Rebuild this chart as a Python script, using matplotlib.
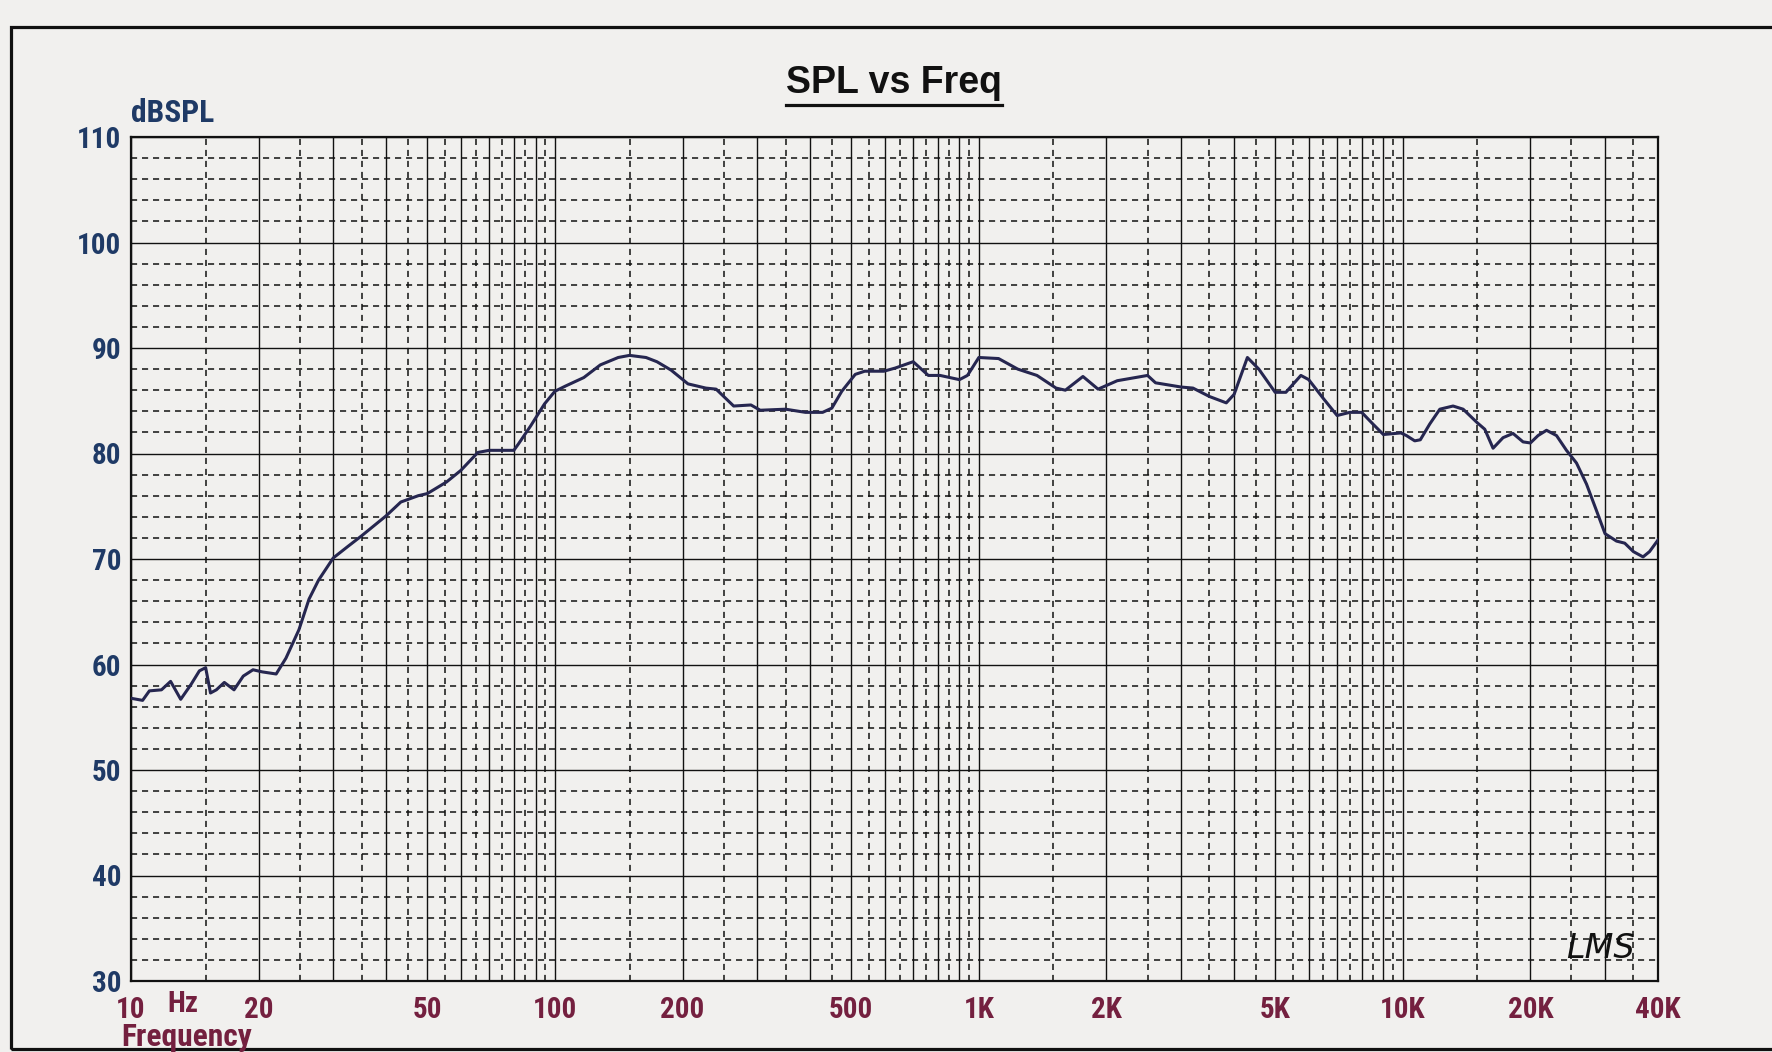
import os
import matplotlib
matplotlib.use('Agg')
import matplotlib.pyplot as plt
from matplotlib import font_manager as fm
from matplotlib.lines import Line2D
from matplotlib.patches import Rectangle
from matplotlib.ticker import NullFormatter

# response curve (Hz, dB SPL)
freq_hz = [10, 10.65, 11.05, 11.8, 12.4, 13.1, 13.85, 14.5, 15.0, 15.4, 15.9, 16.6,
           17.5, 18.4, 19.4, 20.4, 22.0, 23.2, 24.9, 26.3, 27.7, 30, 32.5, 35, 40,
           43.3, 47.6, 50, 55.5, 60, 65.8, 70, 75, 80, 82, 87.6, 94.5, 100, 106, 117,
           128, 141, 150, 164, 174, 188, 206, 227, 240, 264, 290, 305, 350, 390, 428,
           450, 475, 511, 538, 597, 635, 700, 760, 810, 900, 940, 1000, 1113, 1235,
           1371, 1521, 1600, 1760, 1911, 2121, 2500, 2611, 3000, 3200, 3500, 3834,
           4000, 4300, 4575, 5000, 5300, 5750, 6000, 6500, 7000, 7500, 8000, 8500,
           9000, 9900, 10200, 10670, 11000, 11580, 12230, 13140, 13880, 15000, 15610,
           16330, 17240, 18200, 19220, 20000, 20850, 21830, 23050, 24330, 25690,
           27130, 28630, 30000, 31920, 33390, 35000, 36880, 38200, 40000]
spl_db = [56.8, 56.6, 57.5, 57.6, 58.4, 56.7, 58.1, 59.4, 59.7, 57.3, 57.6, 58.3,
          57.6, 58.9, 59.5, 59.3, 59.1, 60.6, 63.3, 66.2, 68.0, 70.1, 71.2, 72.2, 74.1,
          75.4, 76.0, 76.2, 77.3, 78.4, 80.1, 80.3, 80.3, 80.3, 80.9, 82.6, 84.7, 85.9,
          86.4, 87.2, 88.4, 89.1, 89.3, 89.1, 88.7, 87.9, 86.6, 86.2, 86.1, 84.5, 84.6,
          84.1, 84.2, 83.9, 83.9, 84.3, 85.9, 87.5, 87.8, 87.8, 88.1, 88.7, 87.4, 87.4,
          87.0, 87.4, 89.1, 89.0, 88.0, 87.4, 86.2, 86.0, 87.3, 86.1, 86.9, 87.4, 86.7,
          86.3, 86.2, 85.4, 84.8, 85.6, 89.1, 88.0, 85.8, 85.8, 87.4, 87.0, 85.2, 83.6,
          83.9, 83.9, 82.8, 81.8, 81.95, 81.7, 81.2, 81.3, 82.8, 84.2, 84.5, 84.2, 82.9,
          82.3, 80.5, 81.5, 81.9, 81.1, 81.0, 81.7, 82.2, 81.7, 80.3, 79.1, 77.1, 74.6,
          72.4, 71.7, 71.5, 70.7, 70.2, 70.7, 71.8]

x_label_pos = [10, 20, 50, 100, 200, 500, 1000, 2000, 5000, 10000, 20000, 40000]
x_label_txt = ['10', '20', '50', '100', '200', '500', '1K', '2K', '5K', '10K', '20K', '40K']
y_ticks = [30, 40, 50, 60, 70, 80, 90, 100, 110]

bg = '#f1f0ee'
blue = '#1f3a66'
maroon = '#74203f'


def pick_narrow():
    # a condensed bold face if one is installed, else plain bold
    prefs = ['LiberationSansNarrow-Bold.', 'RobotoCondensed-Bold.', 'DejaVuSansCondensed-Bold.',
             'OpenSans_Condensed-Bold.', 'OpenSansCondensed-Bold.']
    files = [f.fname for f in fm.fontManager.ttflist]
    for p in prefs:
        for fn in files:
            if os.path.basename(fn).startswith(p):
                return fm.FontProperties(fname=fn), True
    return fm.FontProperties(family='Liberation Sans', weight='bold'), False


lab_fp, is_narrow = pick_narrow()
lab_size = 21 if is_narrow else 18.5
word_size = lab_size * 1.08

fig = plt.figure(figsize=(17.72, 10.52), dpi=100, facecolor=bg)
ax = fig.add_axes([131/1772, 1 - 981/1052, 1527/1772, 844/1052])
ax.set_facecolor(bg)
ax.set_xscale('log')
ax.set_xlim(10, 40000)
ax.set_ylim(30, 110)

# grid: solid at 1..9 x decade, dashed half way between
major = [n * 10**k for k in range(1, 5) for n in range(1, 10) if n * 10**k <= 40000]
minor = [(n + 0.5) * 10**k for k in range(1, 5) for n in range(1, 10) if (n + 0.5) * 10**k < 40000]
ax.set_xticks(major, [x_label_txt[x_label_pos.index(m)] if m in x_label_pos else '' for m in major])
ax.set_xticks(minor, minor=True)
ax.xaxis.set_minor_formatter(NullFormatter())
ax.set_yticks(y_ticks, [str(v) for v in y_ticks])
ax.set_yticks(range(30, 111, 2), minor=True)
ax.yaxis.set_minor_formatter(NullFormatter())
ax.grid(which='major', color='#111111', lw=1.0, ls='-')
ax.grid(which='minor', color='#111111', lw=1.1, ls=(0, (4, 3.2)))
ax.set_axisbelow(True)
ax.tick_params(which='both', length=0)
ax.tick_params(axis='x', pad=11, labelcolor=maroon)
ax.tick_params(axis='y', pad=7, labelcolor=blue)
for lab in ax.get_xticklabels() + ax.get_yticklabels():
    lab.set_fontproperties(lab_fp)
    lab.set_fontsize(lab_size)
for s in ax.spines.values():
    s.set_linewidth(1.6)
    s.set_color('#111111')

ax.plot(freq_hz, spl_db, color='#262650', lw=2.2, zorder=3)

fig.text(0.0739, 1 - 113/1052, 'dBSPL', color=blue, fontproperties=lab_fp, fontsize=word_size,
         ha='left', va='center')
fig.text(167/1772, 1 - 1004/1052, 'Hz', color=maroon, fontproperties=lab_fp, fontsize=lab_size,
         ha='left', va='center')
fig.text(121/1772, 1 - 1037/1052, 'Frequency', color=maroon, fontproperties=lab_fp,
         fontsize=word_size, ha='left', va='center')
ax.text(0.962, 0.038, 'LMS', transform=ax.transAxes, fontsize=24, style='italic',
        family='DejaVu Sans', color='#111111', ha='center', va='center')

t = fig.text(894.5/1772, 1 - 93/1052, 'SPL vs Freq', fontsize=27, weight='bold',
             family='Liberation Sans', ha='center', va='baseline', color='#111111')
fig.canvas.draw()
bb = t.get_window_extent(fig.canvas.get_renderer())
fig.add_artist(Line2D([bb.x0 / 1772, bb.x1 / 1772], [(bb.y0 - 4) / 1052] * 2,
                      lw=2.3, color='#111111'))

# outer frame (right edge runs off the picture)
fig.add_artist(Rectangle((11/1772, 3/1052), 1.02, 1 - 30/1052, fill=False,
                         lw=2.3, edgecolor='#111111', transform=fig.transFigure))

fig.savefig('out.png', dpi=100, facecolor=bg)
